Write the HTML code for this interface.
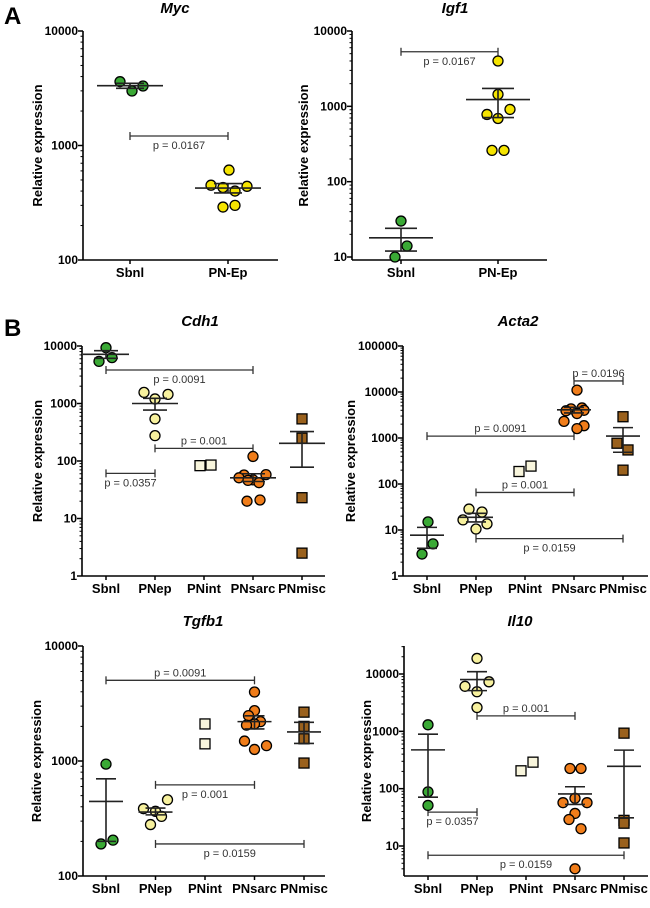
<!DOCTYPE html>
<html><head><meta charset="utf-8">
<style>
html,body{margin:0;padding:0;background:#fff;}
svg text{font-family:"Liberation Sans",Arial,sans-serif;}
</style></head>
<body>
<svg id="fig" width="650" height="903" viewBox="0 0 650 903" xmlns="http://www.w3.org/2000/svg">
<text x="4" y="24" font-size="24" font-weight="bold">A</text>
<text x="4" y="336" font-size="24" font-weight="bold">B</text>
</svg>
<script>
// ---------- data ----------
const mycCats = ["Sbnl","PN-Ep"];
const mycValues = [[3610,2990,3310],[610,450,440,430,400,290,300]];
const mycMeans = [3330,425];
const mycSemHi = [3490,465];
const mycSemLo = [3160,385];
const mycTicks = [100,1000,10000];
const mycP = [["p = 0.0167",0,1,1210,1]];

const igfCats = ["Sbnl","PN-Ep"];
const igfValues = [[30,14,10],[4000,1440,780,910,690,260,260]];
const igfMeans = [18,1230];
const igfSemHi = [24,1730];
const igfSemLo = [12,710];
const igfTicks = [10,100,1000,10000];
const igfP = [["p = 0.0167",0,1,5300,1]];

const fiveCats = ["Sbnl","PNep","PNint","PNsarc","PNmisc"];

const cdhValues = [[9350,5400,6270],[1560,1440,1200,540,276],[83,85],[120,58,57,51,47,46,42,21,20],[540,250,23,2.5]];
const cdhMeans = [7160,1000,null,51,203];
const cdhSemHi = [8300,1230,null,60,325];
const cdhSemLo = [6100,770,null,44,78];
const cdhTicks = [1,10,100,1000,10000];
const cdhP = [["p = 0.0091",0,3,3820,1],["p = 0.001",1,3,166,-1],["p = 0.0357",0,1,61,1]];

const actaValues = [[15,5,3],[28.5,24.6,16.6,13.6,10.5],[187,245],[11000,4500,4300,4000,3900,3400,2300,1850,1600],[2900,770,550,200]];
const actaMeans = [7.7,18.9,null,4100,1100];
const actaSemHi = [11.4,23,null,4650,1680];
const actaSemLo = [4,15,null,3500,490];
const actaTicks = [1,10,100,1000,10000,100000];
const actaP = [["p = 0.0196",3,4,17400,-1],["p = 0.0091",0,3,1100,-1],["p = 0.001",1,3,65.6,-1],["p = 0.0159",1,4,6.5,1]];

const tgfValues = [[940,190,205],[460,385,365,330,280],[2100,1410],[3980,2740,2480,2200,2100,2050,1490,1360,1260],[2660,2000,1560,960]];
const tgfMeans = [445,360,null,2200,1790];
const tgfSemHi = [700,390,null,2470,2170];
const tgfSemLo = [200,340,null,1900,1420];
const tgfTicks = [100,1000,10000];
const tgfP = [["p = 0.0091",0,3,5030,-1],["p = 0.001",1,3,620,1],["p = 0.0159",1,4,190,1]];

const il10Values = [[1300,88,51],[18700,6100,7300,4900,2600],[205,290],[225,225,68,57,57,37,29,20,4],[930,28,25,11.3]];
const il10Means = [475,8000,null,81,245];
const il10SemHi = [890,10980,null,108,470];
const il10SemLo = [71,5130,null,53,31];
const il10Ticks = [10,100,1000,10000];
const il10P = [["p = 0.001",1,3,1860,-1],["p = 0.0357",0,1,39,1],["p = 0.0159",0,4,6.9,1]];

// ---------- layout (not data) ----------
const colors = ["#3aa935","#f7f19e","#f8f5dc","#f07d1a","#9a611d"];
const shapes = ["c","c","s","c","s"];
const jit = {
 myc:[[-10,2,13],[1,-17,19,-5,7,-5,7]],
 igf:[[0,6,-6],[0,0,-11,12,0,-6,6]],
 cdh:[[0,-7,6],[-11,13,0,0,0],[-4,7],[0,13,-9,-14,0,-5,6,7,-6],[0,0,0,0]],
 acta:[[1,6,-5],[-7,6,-13,11,0],[-6,6],[3,8,-3,10,-8,3,-10,10,3],[0,-6,5,0]],
 tgf:[[0,-5,7],[12,-12,0,6,-5],[0,0],[0,0,-6,6,0,-8,-10,12,0],[0,0,0,0]],
 il10:[[0,0,0],[0,-12,12,0,0],[-5,7],[-5,6,0,-12,12,0,-6,6,0],[0,0,0,0]]
};

const NS="http://www.w3.org/2000/svg";
const svg=document.getElementById('fig');
function mk(tag,attrs,parent){const e=document.createElementNS(NS,tag);for(const k in attrs)e.setAttribute(k,attrs[k]);(parent||svg).appendChild(e);return e;}

function panel(cfg){
 const g=mk('g',{});
 
 
 const dec=(cfg.y1px-cfg.y0px)/(Math.log10(cfg.v1)-Math.log10(cfg.v0));
 const y=v=>cfg.y0px+(Math.log10(v)-Math.log10(cfg.v0))*dec;
 const x=i=>cfg.x0+cfg.step*i;
 const ax=cfg.axisX;
 // title
 const t=mk('text',{x:cfg.titleX,y:cfg.titleY,'font-size':15,'font-weight':'bold','font-style':'italic','text-anchor':'middle'},g);
 t.textContent=cfg.title;
 
 
 // y axis
 const ya=mk('line',{x1:ax,y1:cfg.axTop,x2:ax,y2:cfg.axBot,stroke:'#000','stroke-width':1.6},g);
 
 
 const xa=mk('line',{x1:ax,y1:cfg.axBot,x2:cfg.xEnd,y2:cfg.axBot,stroke:'#000','stroke-width':1.6},g);
 
 
 // minor ticks
 const lo=Math.floor(Math.log10(cfg.vMin)), hi=Math.ceil(Math.log10(cfg.vMax));
 for(let d=lo;d<hi;d++){for(let m=2;m<10;m++){const v=m*Math.pow(10,d);if(v<cfg.vMin||v>cfg.vMax)continue;
   mk('line',{x1:ax-2.5,x2:ax,y1:y(v),y2:y(v),stroke:'#000','stroke-width':1},g);}}
 cfg.ticks.forEach(v=>{
   mk('line',{x1:ax-5,x2:ax,y1:y(v),y2:y(v),stroke:'#000','stroke-width':1.5},g);
   const tl=mk('text',{x:ax-5,y:y(v)+4,'font-size':12,'font-weight':'bold','text-anchor':'end'},g);
   tl.textContent=String(v);
   
   
 });
 // y title
 const yt=mk('text',{x:0,y:0,'font-size':13,'font-weight':'bold','text-anchor':'middle',transform:`translate(${cfg.ytX},${(cfg.axTop+cfg.axBot)/2}) rotate(-90)`},g);
 yt.textContent='Relative expression';
 
 
 // categories
 cfg.cats.forEach((c,i)=>{
   mk('line',{x1:x(i),x2:x(i),y1:cfg.axBot,y2:cfg.axBot+4,stroke:'#000','stroke-width':1.5},g);
   const cl=mk('text',{x:x(i),y:cfg.axBot+17,'font-size':13,'font-weight':'bold','text-anchor':'middle'},g);
   cl.textContent=c;
   
   
 });
 // brackets
 cfg.p.forEach(p=>{
   const [lab,a,b,v,side]=p, yy=y(v);
   const bg=mk('g',{},g);
   
   
   mk('line',{x1:x(a),x2:x(b),y1:yy,y2:yy,stroke:'#333','stroke-width':1.3},bg);
   mk('line',{x1:x(a),x2:x(a),y1:yy-4,y2:yy+4,stroke:'#333','stroke-width':1.3},bg);
   mk('line',{x1:x(b),x2:x(b),y1:yy-4,y2:yy+4,stroke:'#333','stroke-width':1.3},bg);
   const pt=mk('text',{x:(x(a)+x(b))/2,y:side>0?yy+13:yy-4,'font-size':11,fill:'#333','text-anchor':'middle'},bg);
   pt.textContent=lab;
 });
 // points
 cfg.values.forEach((arr,i)=>{
   const col=cfg.colors[i], sh=cfg.shapes[i];
   arr.forEach((v,k)=>{
     const cx=x(i)+cfg.jit[i][k], cy=y(v);
     let e;
     if(sh==='s') e=mk('rect',{x:cx-5,y:cy-5,width:10,height:10,fill:col,stroke:'#000','stroke-width':1.3},g);
     else e=mk('circle',{cx:cx,cy:cy,r:5,fill:col,stroke:'#000','stroke-width':1.3},g);
     
     
   });
 });
 // mean & sem
 cfg.means.forEach((m,i)=>{
   if(m==null)return;
   const mg=mk('g',{},g);
   
   
   const cx=x(i);
   mk('line',{x1:cx-cfg.mw,x2:cx+cfg.mw,y1:y(m),y2:y(m),stroke:'#222','stroke-width':1.6},mg);
   mk('line',{x1:cx,x2:cx,y1:y(cfg.hi[i]),y2:y(cfg.lo[i]),stroke:'#222','stroke-width':1.6},mg);
   mk('line',{x1:cx-cfg.cw,x2:cx+cfg.cw,y1:y(cfg.hi[i]),y2:y(cfg.hi[i]),stroke:'#222','stroke-width':1.6},mg);
   mk('line',{x1:cx-cfg.cw,x2:cx+cfg.cw,y1:y(cfg.lo[i]),y2:y(cfg.lo[i]),stroke:'#222','stroke-width':1.6},mg);
 });
}

panel({id:'myc',title:'Myc',titleX:175,titleY:13,cats:mycCats,values:mycValues,means:mycMeans,hi:mycSemHi,lo:mycSemLo,ticks:mycTicks,p:mycP,
 colors:["#3aa935","#f5e400"],shapes:["c","c"],jit:jit.myc,axisX:83,xEnd:278,axTop:31,axBot:260,v0:10000,y0px:31,v1:100,y1px:260,vMin:100,vMax:10000,x0:130,step:98,ytX:42,mw:33,cw:14});
panel({id:'igf1',title:'Igf1',titleX:455,titleY:13,cats:igfCats,values:igfValues,means:igfMeans,hi:igfSemHi,lo:igfSemLo,ticks:igfTicks,p:igfP,
 colors:["#3aa935","#f5e400"],shapes:["c","c"],jit:jit.igf,axisX:352,xEnd:547,axTop:31,axBot:260,v0:10000,y0px:31,v1:10,y1px:257,vMin:9.2,vMax:10000,x0:401,step:97,ytX:308,mw:32,cw:16});
panel({id:'cdh1',title:'Cdh1',titleX:200,titleY:326,cats:fiveCats,values:cdhValues,means:cdhMeans,hi:cdhSemHi,lo:cdhSemLo,ticks:cdhTicks,p:cdhP,
 colors:colors,shapes:shapes,jit:jit.cdh,axisX:82,xEnd:325,axTop:346,axBot:576,v0:10000,y0px:346,v1:1,y1px:576,vMin:1,vMax:10000,x0:106,step:49,ytX:42,mw:23,cw:12});
panel({id:'acta2',title:'Acta2',titleX:518,titleY:326,cats:fiveCats,values:actaValues,means:actaMeans,hi:actaSemHi,lo:actaSemLo,ticks:actaTicks,p:actaP,
 colors:colors,shapes:shapes,jit:jit.acta,axisX:403,xEnd:648,axTop:346,axBot:576,v0:100000,y0px:346,v1:1,y1px:576,vMin:1,vMax:100000,x0:427,step:49,ytX:355,mw:17,cw:10});
panel({id:'tgfb1',title:'Tgfb1',titleX:203,titleY:626,cats:fiveCats,values:tgfValues,means:tgfMeans,hi:tgfSemHi,lo:tgfSemLo,ticks:tgfTicks,p:tgfP,
 colors:colors,shapes:shapes,jit:jit.tgf,axisX:83,xEnd:325,axTop:646,axBot:876,v0:10000,y0px:646,v1:100,y1px:876,vMin:100,vMax:10000,x0:106,step:49.5,ytX:41,mw:17,cw:10});
panel({id:'il10',title:'Il10',titleX:520,titleY:626,cats:fiveCats,values:il10Values,means:il10Means,hi:il10SemHi,lo:il10SemLo,ticks:il10Ticks,p:il10P,
 colors:colors,shapes:shapes,jit:jit.il10,axisX:404,xEnd:648,axTop:646,axBot:876,v0:10000,y0px:674,v1:10,y1px:846,vMin:3.3,vMax:30000,x0:428,step:49,ytX:371,mw:17,cw:10});
</script>
</body></html>
